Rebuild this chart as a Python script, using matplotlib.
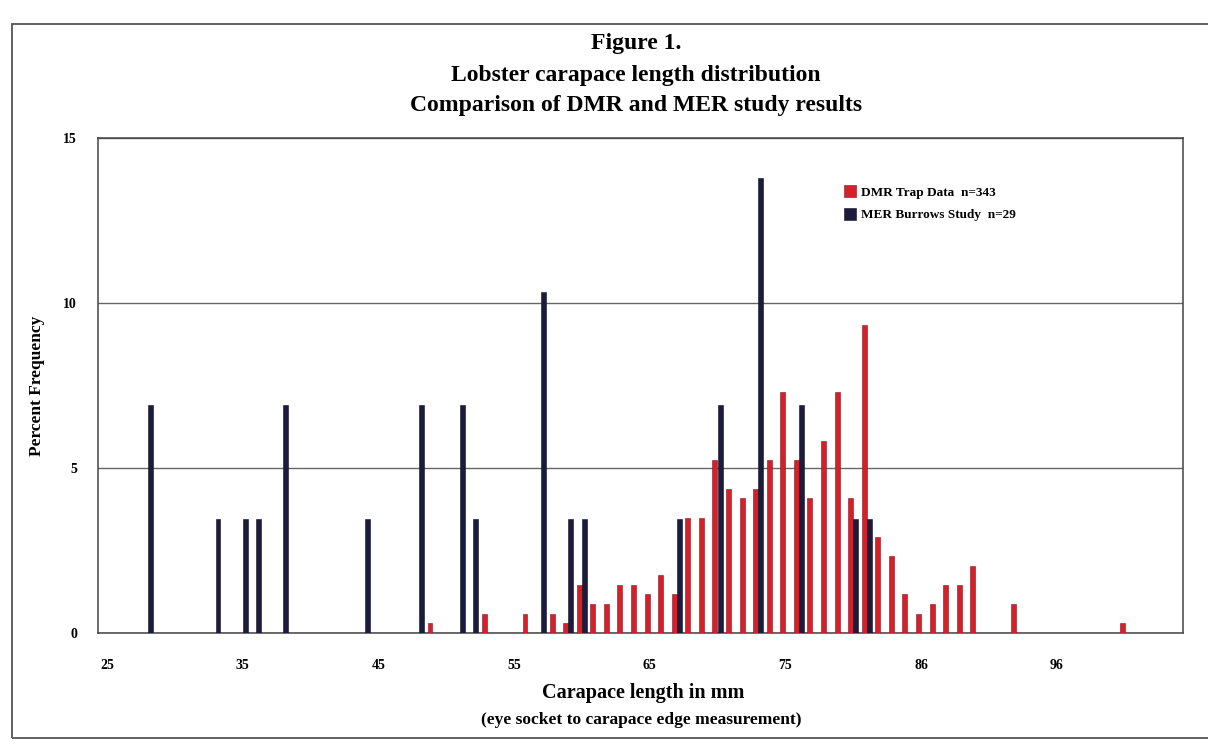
import matplotlib
matplotlib.use("Agg")
import matplotlib.pyplot as plt
import numpy as np
from matplotlib.patches import Rectangle

# Categories (carapace length, mm) as on the original category axis
categories = list(range(25, 85)) + list(range(86, 106))
tick_labels = ["25", "35", "45", "55", "65", "75", "86", "96"]

# DMR Trap Data (n=343), percent frequency
dmr_mm = [49, 53, 56, 58, 59, 60, 61, 62, 63, 64, 65, 66, 67, 68, 69, 70, 71, 72,
          73, 74, 75, 76, 77, 78, 79, 80, 81, 82, 83, 84, 86, 87, 88, 89, 90, 93, 101]
dmr_pct = [0.29, 0.58, 0.58, 0.58, 0.29, 1.46, 0.87, 0.87, 1.46, 1.46, 1.17, 1.75,
           1.17, 3.50, 3.50, 5.25, 4.37, 4.08, 4.37, 5.25, 7.29, 5.25, 4.08, 5.83,
           7.29, 4.08, 9.33, 2.92, 2.33, 1.17, 0.58, 0.87, 1.46, 1.46, 2.04, 0.87, 0.29]

# MER Burrows Study (n=29), percent frequency
mer_mm = [28, 33, 35, 36, 38, 44, 48, 51, 52, 57, 59, 60, 67, 70, 73, 76, 80, 81]
mer_pct = [6.90, 3.45, 3.45, 3.45, 6.90, 3.45, 6.90, 6.90, 3.45, 10.34, 3.45, 3.45,
           3.45, 6.90, 13.79, 6.90, 3.45, 3.45]

red = "#d42029"
navy = "#1b1b3d"
serif = ["Liberation Serif", "DejaVu Serif"]

fig = plt.figure(figsize=(12.08, 7.49), dpi=100)
fig.patch.set_facecolor("white")

# outer chart border
fig.add_artist(Rectangle((12 / 1208, 1 - 738 / 749), 1.2, (738 - 24) / 749,
                         transform=fig.transFigure, fill=False,
                         edgecolor="#555555", linewidth=1.3))

ax = fig.add_axes([98 / 1208, 1 - 633 / 749, (1183 - 98) / 1208, (633 - 138) / 749])

idx = {c: i for i, c in enumerate(categories)}
dmr_x = np.array([idx[m] for m in dmr_mm])
mer_x = np.array([idx[m] for m in mer_mm])
w = 0.36
ax.bar(dmr_x - 0.19, dmr_pct, width=w, color=red, edgecolor="#8a1020",
       linewidth=0.4, label="DMR Trap Data  n=343", zorder=3)
ax.bar(mer_x + 0.19, mer_pct, width=w, color=navy, edgecolor="#101020",
       linewidth=0.4, label="MER Burrows Study  n=29", zorder=3)

ax.set_xlim(-0.65, 79.3)
ax.set_ylim(0, 15)
ax.set_yticks([0, 5, 10, 15])
ax.set_yticklabels(["0", "5", "10", "15"])
ax.yaxis.grid(True, color="#666666", linewidth=1.0)
ax.set_axisbelow(True)
ax.set_xticks([idx[int(t)] for t in tick_labels])
ax.set_xticklabels(tick_labels)
ax.tick_params(axis="both", length=0)
ax.tick_params(axis="x", pad=19)
ax.tick_params(axis="y", pad=15)
for lab in ax.get_xticklabels() + ax.get_yticklabels():
    lab.set_fontfamily(serif)
    lab.set_fontweight("bold")
    lab.set_fontsize(10)
for s in ax.spines.values():
    s.set_color("#444444")
    s.set_linewidth(1.1)

ax.set_ylabel("Percent Frequency", fontfamily=serif, fontweight="bold",
              fontsize=12.5, labelpad=13)

cx = 636 / 1208
fig.text(cx, 1 - 43 / 749, "Figure 1.", ha="center", va="center",
         fontfamily=serif, fontweight="bold", fontsize=17)
fig.text(cx, 1 - 76 / 749, "Lobster carapace length distribution", ha="center",
         va="center", fontfamily=serif, fontweight="bold", fontsize=17)
fig.text(cx, 1 - 105 / 749, "Comparison of DMR and MER study results",
         ha="center", va="center", fontfamily=serif, fontweight="bold", fontsize=17)

fig.text(643 / 1208, 1 - 693 / 749, "Carapace length in mm", ha="center",
         va="center", fontfamily=serif, fontweight="bold", fontsize=14.5)
fig.text(641 / 1208, 1 - 720 / 749, "(eye socket to carapace edge measurement)",
         ha="center", va="center", fontfamily=serif, fontweight="bold", fontsize=12.5)

leg = ax.legend(loc="upper left", bbox_to_anchor=(0.683, 0.915), frameon=False,
                prop={"family": serif, "weight": "bold", "size": 9.5},
                handlelength=0.85, handleheight=1.0, handletextpad=0.4,
                labelspacing=0.7, borderaxespad=0)

fig.savefig("out.png", dpi=100, facecolor="white")
